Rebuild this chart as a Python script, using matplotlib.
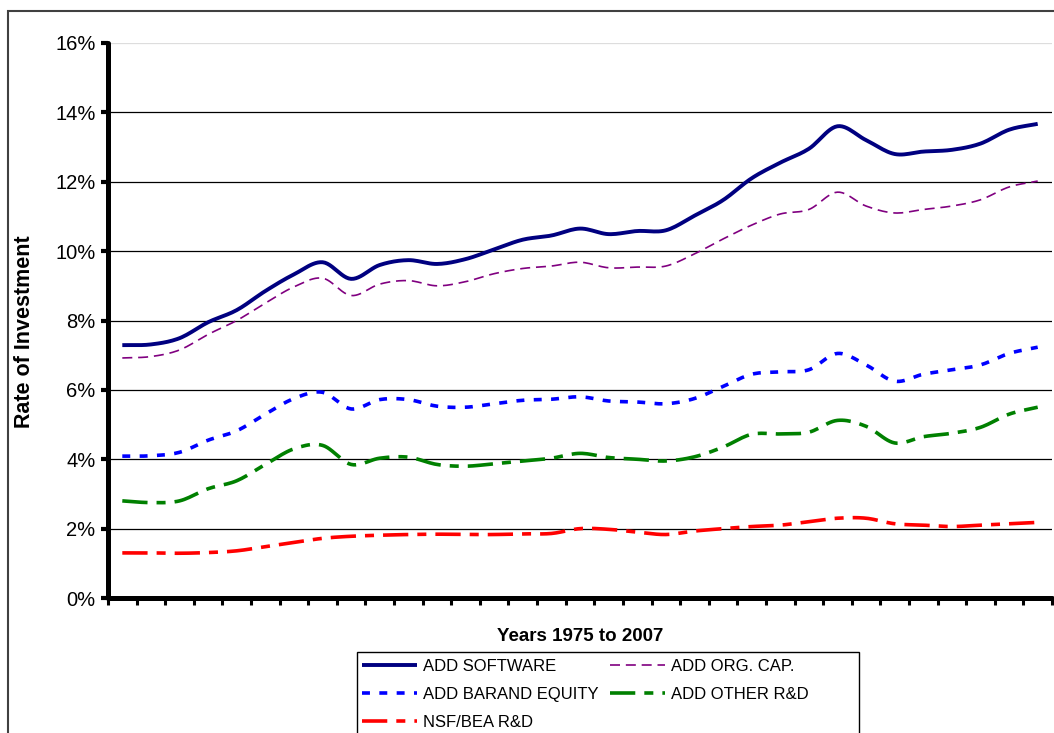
import numpy as np
import matplotlib
matplotlib.use("Agg")
import matplotlib.pyplot as plt
from matplotlib.patches import Rectangle

plt.rcParams['font.family'] = ['Liberation Sans', 'DejaVu Sans']

# Data (rate of investment, %), one value per year 1975..2007
years = list(range(1975, 2008))

add_software = [7.29, 7.31, 7.49, 7.95, 8.30, 8.85, 9.33, 9.68, 9.20, 9.60,
                9.74, 9.63, 9.77, 10.05, 10.33, 10.45, 10.65, 10.49, 10.58, 10.60,
                11.02, 11.47, 12.10, 12.55, 12.95, 13.60, 13.20, 12.80, 12.87, 12.92,
                13.10, 13.50, 13.67]
add_org_cap = [6.92, 6.96, 7.15, 7.60, 8.00, 8.50, 8.97, 9.22, 8.72, 9.05,
               9.15, 9.00, 9.12, 9.35, 9.50, 9.57, 9.68, 9.52, 9.54, 9.57,
               9.92, 10.35, 10.75, 11.07, 11.20, 11.70, 11.30, 11.10, 11.20, 11.30,
               11.48, 11.85, 12.02]
add_brand_equity = [4.09, 4.10, 4.20, 4.55, 4.82, 5.30, 5.75, 5.93, 5.45, 5.72,
                    5.72, 5.53, 5.50, 5.60, 5.70, 5.73, 5.80, 5.68, 5.65, 5.60,
                    5.75, 6.10, 6.45, 6.52, 6.58, 7.05, 6.72, 6.25, 6.45, 6.58,
                    6.72, 7.05, 7.23]
add_other_rd = [2.80, 2.75, 2.80, 3.15, 3.38, 3.85, 4.30, 4.40, 3.85, 4.03,
                4.06, 3.85, 3.80, 3.87, 3.95, 4.03, 4.17, 4.05, 4.00, 3.95,
                4.07, 4.35, 4.72, 4.73, 4.78, 5.12, 4.95, 4.47, 4.65, 4.75,
                4.92, 5.30, 5.50]
nsf_bea_rd = [1.30, 1.30, 1.29, 1.31, 1.36, 1.48, 1.60, 1.72, 1.78, 1.81,
              1.83, 1.84, 1.83, 1.83, 1.85, 1.86, 2.00, 1.98, 1.90, 1.83,
              1.93, 2.00, 2.06, 2.10, 2.20, 2.30, 2.30, 2.14, 2.10, 2.06,
              2.10, 2.14, 2.18]

y_ticks = [0, 2, 4, 6, 8, 10, 12, 14, 16]
y_tick_labels = ["0%", "2%", "4%", "6%", "8%", "10%", "12%", "14%", "16%"]


def smooth(x, y, n=12):
    # Catmull-Rom curve through the points, like Excel's smoothed lines
    x = np.asarray(x, float)
    y = np.asarray(y, float)
    px = np.concatenate([[2 * x[0] - x[1]], x, [2 * x[-1] - x[-2]]])
    py = np.concatenate([[2 * y[0] - y[1]], y, [2 * y[-1] - y[-2]]])
    t = np.linspace(0, 1, n, endpoint=False)
    xs, ys = [], []
    for i in range(1, len(px) - 2):
        for p, out in ((px, xs), (py, ys)):
            p0, p1, p2, p3 = p[i - 1], p[i], p[i + 1], p[i + 2]
            out.append(0.5 * (2 * p1 + (-p0 + p2) * t
                              + (2 * p0 - 5 * p1 + 4 * p2 - p3) * t ** 2
                              + (-p0 + 3 * p1 - 3 * p2 + p3) * t ** 3))
    xs.append([x[-1]])
    ys.append([y[-1]])
    return np.concatenate(xs), np.concatenate(ys)


fig = plt.figure(figsize=(10.54, 7.33), dpi=100)
ax = fig.add_axes([108 / 1054, 1 - 598 / 733, 944 / 1054, 555 / 733])

idx = np.arange(len(years))

series = [
    (add_software, "ADD SOFTWARE", dict(color="#000080", lw=2.8, ls="-")),
    (add_brand_equity, "ADD BARAND EQUITY", dict(color="#0000FF", lw=2.6, ls=(0, (2.2, 2.6)))),
    (nsf_bea_rd, "NSF/BEA R&D", dict(color="#FF0000", lw=2.6, ls=(0, (7, 2.5, 2.5, 2.5)))),
    (add_org_cap, "ADD ORG. CAP.", dict(color="#800080", lw=1.2, ls=(0, (6, 3.5)))),
    (add_other_rd, "ADD OTHER R&D", dict(color="#008000", lw=2.6, ls=(0, (7, 2.5, 2.5, 2.5)))),
]

handles = []
for vals, name, style in series:
    sx, sy = smooth(idx, vals)
    h, = ax.plot(sx, sy, label=name, solid_capstyle="butt", dash_capstyle="butt", **style)
    handles.append(h)

ax.set_xlim(-0.5, len(years) - 0.5)
ax.set_ylim(0, 16)
ax.set_xticks(np.arange(-0.5, len(years) + 0.5, 1.0))
ax.set_xticklabels([])
ax.set_yticks(y_ticks)
ax.set_yticklabels(y_tick_labels, fontsize=14.5)

ax.yaxis.grid(True, color="black", lw=0.9)
ax.yaxis.get_gridlines()[-1].set_color("#dddddd")
ax.set_axisbelow(True)

for s in ["top", "right"]:
    ax.spines[s].set_visible(False)
for s in ["left", "bottom"]:
    ax.spines[s].set_linewidth(3.6)
    ax.spines[s].set_capstyle("round")
ax.tick_params(axis="y", direction="out", length=5, width=3, pad=4)
ax.tick_params(axis="x", direction="out", length=5, width=2.2)

ax.text(-0.088, 0.479, "Rate of Investment", rotation=90, transform=ax.transAxes,
        ha="center", va="center", fontsize=15.5, fontweight="bold")
ax.text(0.5, -0.0685, "Years 1975 to 2007", transform=ax.transAxes,
        ha="center", va="center", fontsize=13.5, fontweight="bold")

leg = fig.legend(handles=handles, loc="upper left", ncol=2,
                 bbox_to_anchor=(357 / 1054, 1 - 654 / 733),
                 fontsize=12, frameon=False,
                 handlelength=3.3, handletextpad=0.35, columnspacing=0.7,
                 labelspacing=0.78, borderpad=0.3, borderaxespad=0)

# legend frame, wider than its entries and running off the bottom edge
fig.patches.append(Rectangle((357 / 1054, -0.05), (859 - 357) / 1054, 0.05 + 1 - 652 / 733,
                             transform=fig.transFigure, fill=False,
                             edgecolor="black", lw=1.0))

# chart area border (extends past the right and bottom edges)
fig.patches.append(Rectangle((8 / 1054, -0.2), 2.0, 1.2 - 11 / 733,
                             transform=fig.transFigure, fill=False,
                             edgecolor="#404040", lw=1.5))

fig.savefig("out.png", dpi=100)
